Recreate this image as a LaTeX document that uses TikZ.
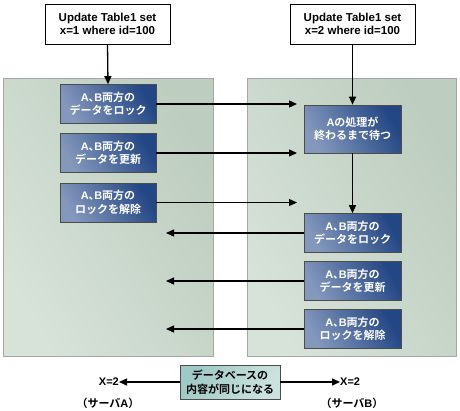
\documentclass[tikz,border=0pt]{standalone}
\usepackage{fontspec}
\setmainfont{Noto Sans CJK JP}[BoldFont={* Bold}]
\newfontfamily\lat{Liberation Sans}
\usetikzlibrary{arrows.meta}
\definecolor{panelA}{HTML}{D7E2D9}
\definecolor{panelB}{HTML}{BDCDBF}
\definecolor{blueL}{HTML}{8498BC}
\definecolor{blueD}{HTML}{234684}
\definecolor{tealL}{HTML}{CBE3DF}
\definecolor{tealD}{HTML}{9FC9C5}
\newcommand{\AB}{{\lat A}､{\lat B}}
\tikzset{
  x=1pt, y=-1pt,
  txt/.style={font=\bfseries\fontsize{11}{13.5}\selectfont, align=center, inner sep=0pt},
  topbox/.style={txt, font=\lat\bfseries\fontsize{11.5}{13.5}\selectfont, draw=black, line width=0.8pt, fill=white, minimum width=125pt, minimum height=40pt},
  bluebox/.style={txt, text=white, draw=black!70, line width=0.6pt, left color=blueL, right color=blueD, shading angle=120, minimum width=96pt, minimum height=39pt},
  panel/.style={draw=gray!70, line width=0.6pt, left color=panelA, right color=panelB, shading angle=120},
  arr/.style={line width=1.3pt, -{Triangle[length=8pt,width=7pt]}},
}
\begin{document}
\begin{tikzpicture}
\useasboundingbox (0,0) rectangle (460,410);
% panels
\path[panel] (3,78) rectangle (213,356);
\path[panel] (247,78) rectangle (456,356);
% top boxes
\node[topbox] (tl) at (107.5,24) {Update Table1 set\\x=1 where id=100};
\node[topbox] (tr) at (352.5,24) {Update Table1 set\\x=2 where id=100};
% left boxes
\node[bluebox] (a1) at (108,104) {\AB 両方の\\データをロック};
\node[bluebox] (a2) at (108,153) {\AB 両方の\\データを更新};
\node[bluebox] (a3) at (108,202.5) {\AB 両方の\\ロックを解除};
% right boxes
\node[bluebox, minimum width=97pt, minimum height=48pt] (bw) at (352.5,129) {{\lat A}の処理が\\終わるまで待つ};
\node[bluebox, minimum width=97pt] (b1) at (352.5,233) {\AB 両方の\\データをロック};
\node[bluebox, minimum width=97pt] (b2) at (352.5,281) {\AB 両方の\\データを更新};
\node[bluebox, minimum width=97pt] (b3) at (352.5,329) {\AB 両方の\\ロックを解除};
% free ends
\coordinate (r1) at (297,104);
\coordinate (r2) at (297,153);
\coordinate (r3) at (297,202.5);
\coordinate (l1) at (166,233);
\coordinate (l2) at (166,281);
\coordinate (l3) at (166,329);
% arrows
\draw[arr] (tl.south) -- (a1.north);
\draw[arr] (tr.south) -- (bw.north);
\draw[arr] (bw.south) -- (b1.north);
\draw[arr] (a1.east) -- (r1);
\draw[arr] (a2.east) -- (r2);
\draw[arr] (a3.east) -- (r3);
\draw[arr] (b1.west) -- (l1);
\draw[arr] (b2.west) -- (l2);
\draw[arr] (b3.west) -- (l3);
% bottom
\node[txt, draw=black!70, line width=0.6pt, left color=tealD, right color=tealL, shading angle=60, minimum width=100pt, minimum height=34pt] (db) at (230,382) {データベースの\\内容が同じになる};
\node[txt, anchor=east] (xa) at (119,382) {\lat X=2};
\node[txt, anchor=west] (xb) at (340,382) {\lat X=2};
\node[txt] (sa) at (108,403) {（サーバ{\lat A}）};
\node[txt] (sb) at (352,403) {（サーバ{\lat B}）};
\draw[arr] (db.west) -- (xa.east);
\draw[arr] (db.east) -- (xb.west);
\end{tikzpicture}
\end{document}
